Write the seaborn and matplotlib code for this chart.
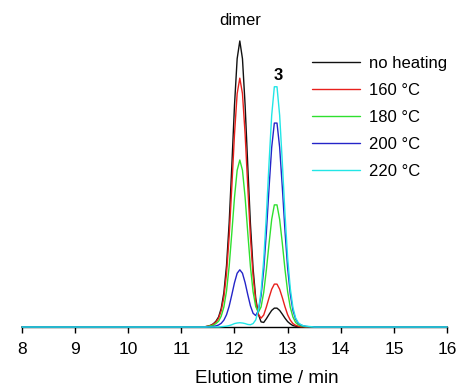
import matplotlib
matplotlib.use('Agg')
import matplotlib.pyplot as plt
import pandas as pd
import seaborn as sns

# elution time grid (min) around the peaks, plus the ends of the run
time = [8.00,
        11.40, 11.45, 11.50, 11.55, 11.60, 11.65, 11.70, 11.75, 11.80, 11.85,
        11.90, 11.95, 12.00, 12.05, 12.10, 12.15, 12.20, 12.25, 12.30, 12.35,
        12.40, 12.45, 12.50, 12.55, 12.60, 12.65, 12.70, 12.75, 12.80, 12.85,
        12.90, 12.95, 13.00, 13.05, 13.10, 13.15, 13.20, 13.25, 13.30, 13.35,
        13.40, 13.45, 13.50,
        16.00]

no_heating = [0,
              0, 0.1, 0.3, 0.6, 1.1, 2.0, 3.5, 6.5, 12.0, 21.5,
              36.5, 56.5, 77.5, 93.8, 100.0, 93.8, 77.5, 56.3, 36.0, 20.4,
              10.0, 4.4, 1.8, 1.6, 2.9, 4.4, 5.8, 6.6, 6.6, 5.8,
              4.5, 3.1, 1.9, 1.1, 0.5, 0.3, 0.1, 0.1, 0, 0,
              0, 0, 0,
              0]
t160 = [0,
        0, 0.1, 0.3, 0.5, 1.0, 1.7, 3.0, 5.7, 10.4, 18.7,
        31.8, 49.2, 67.4, 81.6, 87.0, 81.6, 67.4, 49.0, 31.4, 17.8,
        9.0, 4.4, 3.1, 4.2, 7.0, 10.2, 13.2, 15.0, 15.0, 13.2,
        10.3, 7.1, 4.3, 2.4, 1.2, 0.6, 0.3, 0.1, 0.1, 0,
        0, 0, 0,
        0]
t180 = [0,
        0, 0.1, 0.2, 0.4, 0.6, 1.2, 2.0, 3.8, 7.0, 12.6,
        21.3, 33.0, 45.3, 54.8, 58.4, 54.8, 45.3, 32.9, 21.1, 12.3,
        7.1, 5.2, 7.0, 12.1, 20.0, 29.1, 37.6, 42.7, 42.7, 37.6,
        29.3, 20.2, 12.4, 6.9, 3.5, 1.6, 0.8, 0.4, 0.2, 0.1,
        0.1, 0, 0,
        0]
t200 = [0,
        0, 0, 0.1, 0.1, 0.2, 0.4, 0.7, 1.3, 2.4, 4.3,
        7.3, 11.3, 15.5, 18.8, 20.0, 18.8, 15.5, 11.3, 7.4, 4.8,
        4.0, 5.8, 10.9, 20.0, 33.2, 48.6, 62.8, 71.3, 71.3, 62.8,
        48.9, 33.7, 20.7, 11.5, 5.8, 2.8, 1.3, 0.7, 0.4, 0.2,
        0.1, 0.1, 0,
        0]
t220 = [0,
        0, 0, 0, 0, 0, 0, 0, 0.1, 0.2, 0.3,
        0.5, 0.8, 1.2, 1.4, 1.5, 1.4, 1.2, 0.9, 0.8, 1.2,
        2.5, 5.9, 12.4, 23.5, 39.1, 57.3, 74.0, 84.0, 84.0, 74.0,
        57.6, 39.7, 24.3, 13.5, 6.8, 3.2, 1.5, 0.8, 0.4, 0.3,
        0.2, 0.1, 0,
        0]

labels = ['no heating', '160 °C', '180 °C', '200 °C', '220 °C']
colors = ['#111111', '#e8201c', '#2fe02f', '#2424c8', '#22e6e6']
series = [no_heating, t160, t180, t200, t220]

df = pd.concat([pd.DataFrame({'time': time, 'signal': s, 'sample': lab})
                for lab, s in zip(labels, series)], ignore_index=True)

sns.set_style('ticks')
plt.rcParams['font.family'] = ['Liberation Sans', 'DejaVu Sans']
plt.rcParams['text.color'] = 'black'
plt.rcParams['axes.labelcolor'] = 'black'

fig = plt.figure(figsize=(4.58, 3.87), dpi=100)
ax = fig.add_axes([0.048, 0.155, 0.928, 0.813])

sns.lineplot(data=df, x='time', y='signal', hue='sample', hue_order=labels,
             palette=colors, estimator=None, sort=False, lw=1.0,
             legend=False, ax=ax)
for ln in ax.lines:
    ln.set_clip_on(False)
    ln.set_zorder(3)

ax.set_xlim(8, 16)
ax.set_ylim(0, 110)
ax.set_xticks(range(8, 17))
ax.set_yticks([])
ax.set_ylabel('')
ax.set_xlabel('Elution time / min', fontsize=13.5)
ax.xaxis.set_label_coords(0.576, -0.138)
ax.tick_params(axis='x', direction='out', length=4.5, width=1, pad=6.5,
               labelsize=12.5, colors='black')
sns.despine(ax=ax, left=True)
ax.spines['bottom'].set_linewidth(1)
ax.spines['bottom'].set_color('black')

ax.text(12.1, 107, 'dimer', ha='center', va='center', fontsize=12)
ax.text(12.82, 88, '3', ha='center', va='center', fontsize=12,
        fontweight='bold')

ax.legend(ax.lines, labels, loc='upper left', bbox_to_anchor=(0.681, 0.856),
          bbox_transform=fig.transFigure, frameon=False, fontsize=12,
          handlelength=2.9, handletextpad=0.5, labelspacing=0.72,
          borderpad=0, borderaxespad=0)

fig.savefig('out.png', dpi=100)
